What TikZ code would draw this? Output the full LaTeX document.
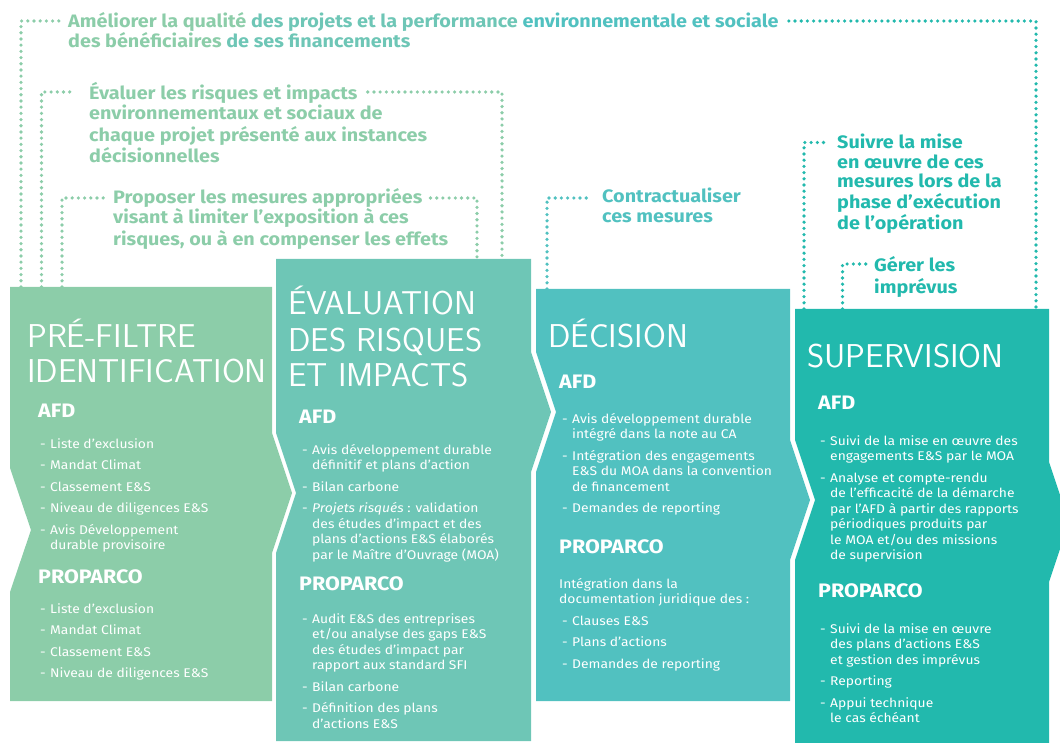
\documentclass[tikz,border=0pt]{standalone}
\usepackage{fontspec}
\setmainfont{Fira Sans}[FakeStretch=1.1]
\usepackage{tikz}
\usetikzlibrary{calc}

\definecolor{prefiltre}{HTML}{8CCDA9}
\definecolor{evaluation}{HTML}{6EC6B6}
\definecolor{decision}{HTML}{51C1C0}
\definecolor{supervision}{HTML}{22B9AD}

\newcommand{\dashitem}{\makebox[10pt][l]{-}}
\newcommand{\contline}{\hspace*{10pt}}
\newcommand{\textlines}[1]{\begin{tabular}[t]{@{}l@{}}#1\end{tabular}}

\tikzset{
  coltitle/.style={anchor=base west, inner sep=0pt, text=white,
    font=\sffamily\fontsize{33}{35.5}\selectfont},
  orgname/.style={anchor=base west, inner sep=0pt, text=white,
    font=\bfseries\fontsize{19.5}{20}\selectfont},
  itemlist/.style={anchor=base west, inner sep=0pt, text=white,
    font=\fontsize{12.6}{15.5}\selectfont},
  goal/.style={anchor=base west, inner sep=0pt,
    font=\bfseries\fontsize{18}{20}\selectfont},
  dots/.style={line width=3.6pt, line cap=round, dash pattern=on 0pt off 6.2pt}
}

\begin{document}
\begin{tikzpicture}[x=1pt, y=-1pt]
    \useasboundingbox (0,0) rectangle (1060,743);
    \clip (0,0) rectangle (1060,743);

    % les quatre étapes
    \fill[prefiltre] (10,287) -- (272,287) -- (272,433) -- (292,493) -- (272,553)
        -- (272,701) -- (10,701) -- (10,592) -- (31,530) -- (10,468) -- cycle;
    \fill[evaluation] (276,259) -- (531,259) -- (531,352) -- (551,412) -- (531,472)
        -- (531,741) -- (276,741) -- (276,553) -- (296,493) -- (276,433) -- cycle;
    \fill[decision] (536,289) -- (790,289) -- (790,440) -- (810,500) -- (790,560)
        -- (790,701) -- (536,701) -- (536,472) -- (556,412) -- (536,352) -- cycle;
    \fill[supervision] (795,309) -- (1049,309) -- (1049,462) -- (1069,522) -- (1049,582)
        -- (1049,750) -- (795,750) -- (795,560) -- (815,500) -- (795,440) -- cycle;

    % points d'arrivée des pointillés
    \coordinate (preA) at (21,287);
    \coordinate (preB) at (41.5,287);
    \coordinate (preC) at (62,287);
    \coordinate (evaA) at (477,259);
    \coordinate (evaB) at (502,259);
    \coordinate (decA) at (547,289);
    \coordinate (supA) at (804,309);
    \coordinate (supB) at (842.5,309);
    \coordinate (supC) at (1036,309);

    % objectifs
    \node[goal] (ameliorer) at (68,28) {{\color{prefiltre}Améliorer la qualité }{\color{evaluation}des projets et la performance }{\color{decision}environnementale et sociale}};
    \node[goal] (amelioreb) at ($(ameliorer.base west)+(0,20)$) {{\color{prefiltre}des bénéficiaires }{\color{evaluation}de ses financements}};

    \node[goal, text=prefiltre] (evaluer) at (89,100) {Évaluer les risques et impacts};
    \node[goal, text=prefiltre] (evaluerb) at ($(evaluer.base west)+(0,20)$) {\textlines{environnementaux et sociaux de\\chaque projet présenté aux instances\\décisionnelles}};

    \node[goal, text=prefiltre] (proposer) at (113,204) {Proposer les mesures appropriées};
    \node[goal, text=prefiltre] (proposerb) at ($(proposer.base west)+(0,20)$) {\textlines{visant à limiter l’exposition à ces\\risques, ou à en compenser les effets}};

    \node[goal, text=decision] (contrat) at (602,203) {\textlines{Contractualiser\\ces mesures}};

    \node[goal, text=supervision, font=\bfseries\fontsize{18}{19.3}\selectfont] (suivre) at (837,149) {\textlines{Suivre la mise\\en œuvre de ces\\mesures lors de la\\phase d’exécution\\de l’opération}};

    \node[goal, text=supervision] (gerer) at (874,272) {\textlines{Gérer les\\imprévus}};

    % pointillés
    \draw[dots, prefiltre] (preA) |- ($(ameliorer.base west)+(-9,-7)$);
    \draw[dots, supervision] ($(ameliorer.base east)+(10,-7)$) -| (supC);
    \draw[dots, prefiltre] (preB) |- ($(evaluer.base west)+(-16,-8)$);
    \draw[dots, prefiltre] ($(evaluer.base east)+(10,-8)$) -| (evaB);
    \draw[dots, prefiltre] (preC) |- ($(proposer.base west)+(-7,-6)$);
    \draw[dots, prefiltre] ($(proposer.base east)+(8,-6)$) -| (evaA);
    \draw[dots, decision] (decA) |- ($(contrat.base west)+(-10,-5)$);
    \draw[dots, supervision] (supA) |- ($(suivre.base west)+(-10,-6.5)$);
    \draw[dots, supervision] (supB) |- ($(gerer.base west)+(-6,-8)$);

    % pré-filtre
    \node[coltitle] (tpre) at (27,347) {\textlines{PRÉ-FILTRE\\IDENTIFICATION}};
    \node[orgname] (afdpre) at (38,417) {AFD};
    \node[itemlist] (lafdpre) at (40,448) {\textlines{\dashitem Liste d’exclusion\\[6pt]\dashitem Mandat Climat\\[6pt]\dashitem Classement E\&S\\[6pt]\dashitem Niveau de diligences E\&S\\[6pt]\dashitem Avis Développement\\\contline durable provisoire}};
    \node[orgname] (propre) at (38,583) {PROPARCO};
    \node[itemlist] (lpropre) at (40,613) {\textlines{\dashitem Liste d’exclusion\\[6pt]\dashitem Mandat Climat\\[6pt]\dashitem Classement E\&S\\[6pt]\dashitem Niveau de diligences E\&S}};

    % évaluation
    \node[coltitle, font=\sffamily\fontsize{33}{36}\selectfont] (teva) at (288,315) {\textlines{ÉVALUATION\\DES RISQUES\\ET IMPACTS}};
    \node[orgname] (afdeva) at (299,423) {AFD};
    \node[itemlist] (lafdeva) at (302,454) {\textlines{\dashitem Avis développement durable\\\contline définitif et plans d’action\\[6pt]\dashitem Bilan carbone\\[6pt]\dashitem \emph{Projets risqués} : validation\\\contline des études d’impact et des\\\contline plans d’actions E\&S élaborés\\\contline par le Maître d’Ouvrage (MOA)}};
    \node[orgname] (proeva) at (299,590) {PROPARCO};
    \node[itemlist] (lproeva) at (302,623) {\textlines{\dashitem Audit E\&S des entreprises\\\contline et/ou analyse des gaps E\&S\\\contline des études d’impact par\\\contline rapport aux standard SFI\\[6pt]\dashitem Bilan carbone\\[6pt]\dashitem Définition des plans\\\contline d’actions E\&S}};

    % décision
    \node[coltitle] (tdec) at (548,347) {DÉCISION};
    \node[orgname] (afddec) at (559,388) {AFD};
    \node[itemlist] (lafddec) at (562,423) {\textlines{\dashitem Avis développement durable\\\contline intégré dans la note au CA\\[6pt]\dashitem Intégration des engagements\\\contline E\&S du MOA dans la convention\\\contline de financement\\[6pt]\dashitem Demandes de reporting}};
    \node[orgname] (prodec) at (559,553) {PROPARCO};
    \node[itemlist] (introdec) at (559,588) {\textlines{Intégration dans la\\documentation juridique des :}};
    \node[itemlist] (lprodec) at (562,625) {\textlines{\dashitem Clauses E\&S\\[6pt]\dashitem Plans d’actions\\[6pt]\dashitem Demandes de reporting}};

    % supervision
    \node[coltitle] (tsup) at (807,367) {SUPERVISION};
    \node[orgname] (afdsup) at (818,409) {AFD};
    \node[itemlist] (lafdsup) at (820,445) {\textlines{\dashitem Suivi de la mise en œuvre des\\\contline engagements E\&S par le MOA\\[6pt]\dashitem Analyse et compte-rendu\\\contline de l’efficacité de la démarche\\\contline par l’AFD à partir des rapports\\\contline périodiques produits par\\\contline le MOA et/ou des missions\\\contline de supervision}};
    \node[orgname] (prosup) at (818,597) {PROPARCO};
    \node[itemlist] (lprosup) at (820,633) {\textlines{\dashitem Suivi de la mise en œuvre\\\contline des plans d’actions E\&S\\\contline et gestion des imprévus\\[6pt]\dashitem Reporting\\[6pt]\dashitem Appui technique\\\contline le cas échéant}};
\end{tikzpicture}
\end{document}
